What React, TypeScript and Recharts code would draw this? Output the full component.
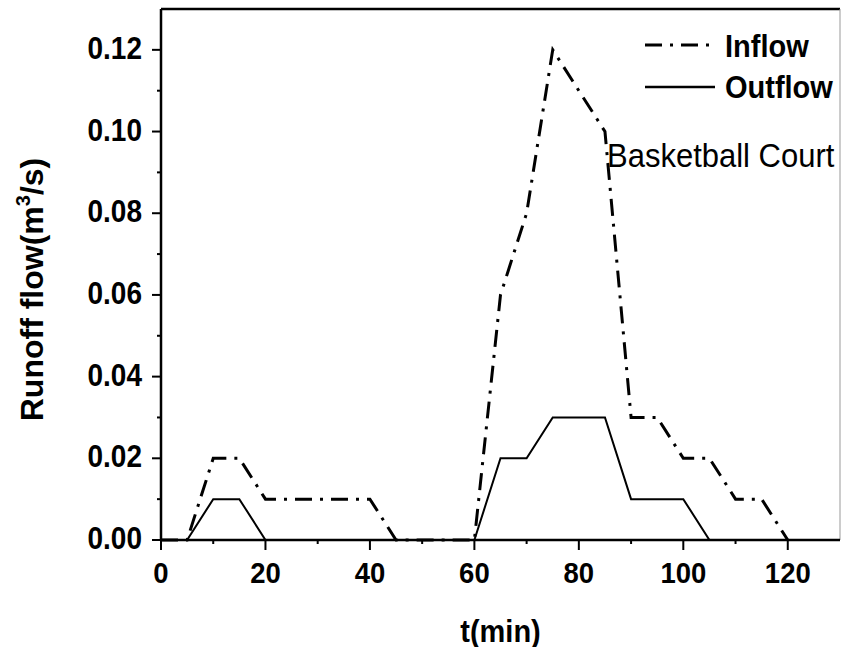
import { LineChart, Line, XAxis, YAxis, ReferenceLine, Legend } from "recharts";

const times = [0, 5, 10, 15, 20, 25, 30, 35, 40, 45, 50, 55, 60, 65, 70, 75, 80, 85, 90, 95, 100, 105, 110, 115, 120];
const inflow = [0, 0, 0.02, 0.02, 0.01, 0.01, 0.01, 0.01, 0.01, 0, 0, 0, 0, 0.06, 0.08, 0.12, 0.11, 0.1, 0.03, 0.03, 0.02, 0.02, 0.01, 0.01, 0];
const outflow = [0, 0, 0.01, 0.01, 0, 0, 0, 0, 0, 0, 0, 0, 0, 0.02, 0.02, 0.03, 0.03, 0.03, 0.01, 0.01, 0.01, 0, 0, 0, 0];

const xTicks = [0, 10, 20, 30, 40, 50, 60, 70, 80, 90, 100, 110, 120];
const yTicks = [0, 0.01, 0.02, 0.03, 0.04, 0.05, 0.06, 0.07, 0.08, 0.09, 0.1, 0.11, 0.12];

const FONT = "'Liberation Sans', Arial, sans-serif";
const STRETCH = 1.1;
const INFLOW_DASH = "17 8 3 8";

const data = times.map((t, i) => ({ t, inflow: inflow[i], outflow: outflow[i] }));

// the source figure is a bit taller than wide, so text is stretched vertically
function StretchText({ x, y, size, anchor = "start", bold = true, children }: any) {
  return (
    <text
      transform={`translate(${x},${y}) scale(1,${STRETCH})`}
      textAnchor={anchor}
      fontFamily={FONT}
      fontWeight={bold ? "bold" : "normal"}
      fontSize={size}
      fill="#000"
    >
      {children}
    </text>
  );
}

function YTick({ x, y, payload }: any) {
  const v = payload.value;
  const major = Math.round(v * 100) % 2 === 0;
  return (
    <g>
      <line x1={x} x2={x - (major ? 9 : 4)} y1={y} y2={y} stroke="#000" strokeWidth={2} />
      {major && (
        <StretchText x={x - 19} y={y + 9} size={28} anchor="end">
          {v.toFixed(2)}
        </StretchText>
      )}
    </g>
  );
}

function XTick({ x, y, payload }: any) {
  const v = payload.value;
  const major = v % 20 === 0;
  return (
    <g>
      <line x1={x} x2={x} y1={y} y2={y + (major ? 10 : 4)} stroke="#000" strokeWidth={2} />
      {major && (
        <StretchText x={x} y={y + 43} size={27.5} anchor="middle">
          {v}
        </StretchText>
      )}
    </g>
  );
}

function XTitle({ viewBox }: any) {
  return (
    <StretchText x={viewBox.x + viewBox.width / 2} y={viewBox.y + 102} size={29} anchor="middle">
      t(min)
    </StretchText>
  );
}

function YTitle({ viewBox }: any) {
  return (
    <text
      transform={`translate(43,${viewBox.y + viewBox.height / 2 + 15}) rotate(-90)`}
      textAnchor="middle"
      fontFamily={FONT}
      fontWeight="bold"
      fontSize={32}
      fill="#000"
    >
      Runoff flow(m
      <tspan fontSize={20} dy={-13}>3</tspan>
      <tspan dy={13}>/s)</tspan>
    </text>
  );
}

function LegendBox() {
  return (
    <svg width={841} height={647} style={{ display: "block" }}>
      <line x1={645} x2={715} y1={45} y2={45} stroke="#000" strokeWidth={3} strokeDasharray={INFLOW_DASH} />
      <StretchText x={725} y={57} size={29}>Inflow</StretchText>
      <line x1={645} x2={715} y1={87} y2={87} stroke="#000" strokeWidth={2.5} />
      <StretchText x={725} y={98} size={29}>Outflow</StretchText>
      <StretchText x={607} y={167} size={31} bold={false}>Basketball Court</StretchText>
    </svg>
  );
}

export default function App() {
  return (
    <div style={{ position: "absolute", left: 0, top: 0, width: 841, height: 647, background: "#fff" }}>
      <LineChart width={841} height={647} data={data} margin={{ top: 9, right: 1, left: 0, bottom: 0 }}>
        <XAxis
          dataKey="t"
          type="number"
          domain={[0, 130]}
          ticks={xTicks}
          interval={0}
          height={107}
          tickSize={0}
          tickMargin={0}
          tickLine={false}
          axisLine={{ stroke: "#000", strokeWidth: 2.5 }}
          tick={<XTick />}
          label={{ content: <XTitle /> }}
        />
        <YAxis
          type="number"
          domain={[0, 0.13]}
          ticks={yTicks}
          interval={0}
          width={161}
          tickSize={0}
          tickMargin={0}
          tickLine={false}
          axisLine={{ stroke: "#000", strokeWidth: 2.5 }}
          tick={<YTick />}
          label={{ content: <YTitle /> }}
        />
        <ReferenceLine y={0.13} stroke="#000" strokeWidth={2.5} />
        <ReferenceLine x={130} stroke="#999" strokeWidth={1} />
        <Line
          dataKey="inflow"
          type="linear"
          stroke="#000"
          strokeWidth={3}
          strokeDasharray={INFLOW_DASH}
          dot={false}
          isAnimationActive={false}
        />
        <Line
          dataKey="outflow"
          type="linear"
          stroke="#000"
          strokeWidth={2}
          dot={false}
          isAnimationActive={false}
        />
        <Legend
          layout="vertical"
          align="center"
          verticalAlign="middle"
          wrapperStyle={{ left: 0, top: 0, width: 841, height: 647, pointerEvents: "none" }}
          content={<LegendBox />}
        />
      </LineChart>
    </div>
  );
}
